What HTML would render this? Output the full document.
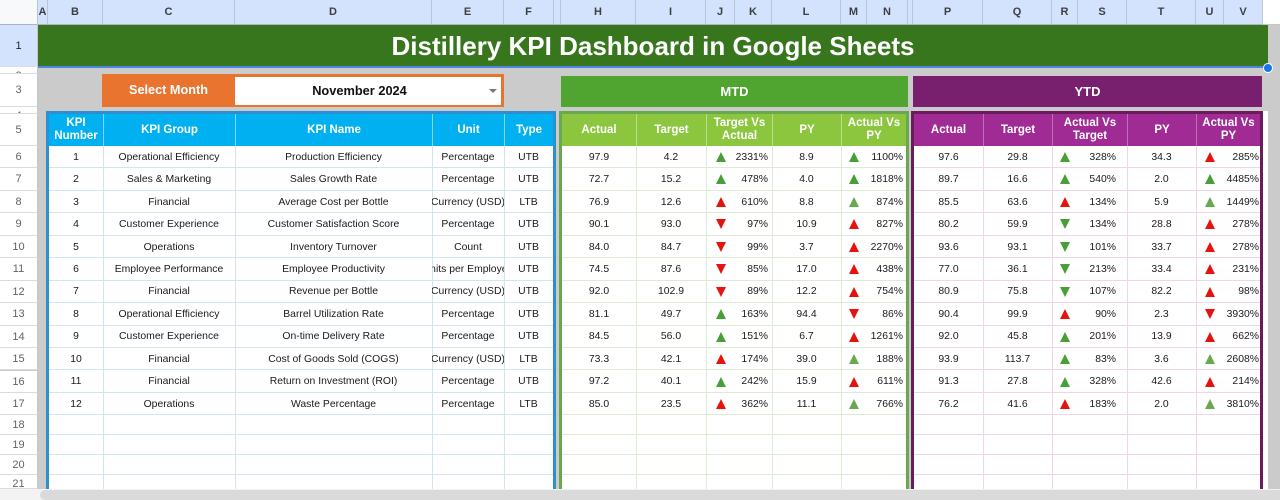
<!DOCTYPE html>
<html><head><meta charset="utf-8">
<style>
*{box-sizing:border-box}
body{margin:0;width:1280px;height:500px;overflow:hidden;position:relative;background:#cbcbcb;font-family:"Liberation Sans",Arial,sans-serif}
.a{position:absolute}
.cl{position:absolute;top:0;height:25px;line-height:25px;text-align:center;font-size:11px;font-weight:bold;color:#3c4043;background:#d3e3fd;border-right:1px solid #b9c6da;border-bottom:1px solid #aab4c4}
.rh{position:absolute;left:0;width:38px;background:#fff;border-bottom:1px solid #dadce0;border-right:1px solid #c4c7c5;text-align:center;font-size:11px;color:#5f6368;overflow:hidden}
.hd{position:absolute;top:114px;height:32px;display:flex;align-items:center;justify-content:center;text-align:center;color:#fff;font-weight:bold;font-size:11.5px;line-height:13px}
.hb{background:#00b0f0;border-left:1px solid #7fd6f6}
.hg{background:#8cc63f;border-left:1px solid #b9de8e}
.hp{background:#a12b94;border-left:1px solid #c46cba}
.rw{position:absolute;left:0;width:1280px;height:22.45px;font-size:10.4px;color:#1a1a1a;background:linear-gradient(to right,transparent 49px,#d3e4f1 49px,#d3e4f1 553px,transparent 553px,transparent 562px,#dcebd4 562px,#dcebd4 906px,transparent 906px,transparent 914px,#eed6ea 914px,#eed6ea 1260px,transparent 1260px) left bottom/100% 1px no-repeat}
.rw2{height:20px}
.rw i{position:absolute;top:0;height:100%;display:flex;align-items:center;justify-content:center;white-space:nowrap;overflow:hidden;font-style:normal}
.rw b{position:absolute;left:50%;top:6px;margin-left:-5px;width:0;height:0;border-left:5px solid transparent;border-right:5px solid transparent}
.U{border-bottom:10px solid}
.D{border-top:10px solid}
.G{color:#46a035}.R{color:#e5130d}.L{color:#6aa84f}
.b{left:49px;width:54px}.c{left:103px;width:132px}.d{left:235px;width:197px}.e{left:432px;width:72px}.f{left:504px;width:49px}
.h{left:562px;width:74px}.ii{left:636px;width:70px}.j{left:706px;width:29px}.k{left:728px;width:40px;justify-content:flex-end!important}.l{left:772px;width:69px}.m{left:841px;width:25px}.n{left:860px;width:43px;justify-content:flex-end!important}
.p{left:914px;width:69px}.q{left:983px;width:69px}.r{left:1052px;width:26px}.s{left:1076px;width:40px;justify-content:flex-end!important}.t{left:1127px;width:69px}.u{left:1196px;width:28px}.v{left:1220px;width:39px;justify-content:flex-end!important}
.vl{position:absolute;top:146px;height:343px;width:1px}
.vb{background:#d3e4f1}.vg{background:#dcebd4}.vp{background:#eed6ea}
</style></head><body>

<!-- column header -->
<div class="a" style="left:0;top:0;width:1280px;height:25px;background:#fff;border-bottom:1px solid #c4c7c5"></div>
<div class="cl" style="left:0;width:38px;background:#f8f9fa"></div>
<div class="cl" style="left:38px;width:10px">A</div>
<div class="cl" style="left:48px;width:55px">B</div>
<div class="cl" style="left:103px;width:132px">C</div>
<div class="cl" style="left:235px;width:197px">D</div>
<div class="cl" style="left:432px;width:72px">E</div>
<div class="cl" style="left:504px;width:50px">F</div>
<div class="cl" style="left:554px;width:7px"></div>
<div class="cl" style="left:561px;width:75px">H</div>
<div class="cl" style="left:636px;width:70px">I</div>
<div class="cl" style="left:706px;width:29px">J</div>
<div class="cl" style="left:735px;width:37px">K</div>
<div class="cl" style="left:772px;width:69px">L</div>
<div class="cl" style="left:841px;width:26px">M</div>
<div class="cl" style="left:867px;width:41px">N</div>
<div class="cl" style="left:908px;width:5px"></div>
<div class="cl" style="left:913px;width:70px">P</div>
<div class="cl" style="left:983px;width:69px">Q</div>
<div class="cl" style="left:1052px;width:26px">R</div>
<div class="cl" style="left:1078px;width:49px">S</div>
<div class="cl" style="left:1127px;width:69px">T</div>
<div class="cl" style="left:1196px;width:28px">U</div>
<div class="cl" style="left:1224px;width:39px">V</div>

<!-- row headers -->
<div class="rh" style="top:25px;height:42px;line-height:42px;background:#d3e3fd;color:#1f1f1f">1</div>
<div class="rh" style="top:67px;height:7px;line-height:18px">2</div>
<div class="rh" style="top:74px;height:33px;line-height:33px">3</div>
<div class="rh" style="top:107px;height:7px;line-height:18px">4</div>
<div class="rh" style="top:114px;height:32px;line-height:32px">5</div>
<div class="rh" style="top:146px;height:22.45px;line-height:22px">6</div>
<div class="rh" style="top:168.45px;height:22.45px;line-height:22px">7</div>
<div class="rh" style="top:190.9px;height:22.45px;line-height:22px">8</div>
<div class="rh" style="top:213.35px;height:22.45px;line-height:22px">9</div>
<div class="rh" style="top:235.8px;height:22.45px;line-height:22px">10</div>
<div class="rh" style="top:258.25px;height:22.45px;line-height:22px">11</div>
<div class="rh" style="top:280.7px;height:22.45px;line-height:22px">12</div>
<div class="rh" style="top:303.15px;height:22.45px;line-height:22px">13</div>
<div class="rh" style="top:325.6px;height:22.45px;line-height:22px">14</div>
<div class="rh" style="top:348.05px;height:22.45px;line-height:22px">15</div>
<div class="rh" style="top:370.5px;height:22.45px;line-height:22px">16</div>
<div class="rh" style="top:392.95px;height:22.45px;line-height:22px">17</div>
<div class="rh" style="top:415.4px;height:20px;line-height:20px">18</div>
<div class="rh" style="top:435.4px;height:20px;line-height:20px">19</div>
<div class="rh" style="top:455.4px;height:20px;line-height:20px">20</div>
<div class="rh" style="top:475.4px;height:14px;line-height:18px">21</div>

<!-- title -->
<div class="a" style="left:38px;top:25px;width:1230px;height:42px;background:#38761d;color:#fff;font-weight:bold;font-size:26px;line-height:42px;text-align:center;padding-left:0">Distillery KPI Dashboard in Google Sheets</div>
<div class="a" style="left:38px;top:66px;width:1230px;height:2px;background:#4a86e8"></div>
<div class="a" style="left:1263px;top:63px;width:10px;height:10px;border-radius:5px;background:#1a73e8;border:1px solid #fff"></div>

<!-- select month -->
<div class="a" style="left:102px;top:74px;width:402px;height:33px;background:#e8742f"></div>
<div class="a" style="left:102px;top:74px;width:133px;height:33px;line-height:33px;text-align:center;color:#fff;font-weight:bold;font-size:12.7px">Select Month</div>
<div class="a" style="left:235px;top:77px;width:266px;height:28px;background:#fff"></div>
<div class="a" style="left:235px;top:77px;width:249px;height:28px;line-height:28px;text-align:center;color:#111;font-weight:bold;font-size:12.8px">November 2024</div>
<div class="a" style="left:489px;top:89px;width:0;height:0;border-left:4px solid transparent;border-right:4px solid transparent;border-top:4px solid #777"></div>

<!-- MTD / YTD bars -->
<div class="a" style="left:561px;top:76px;width:347px;height:31px;line-height:31px;background:#4fa52f;color:#fff;font-weight:bold;font-size:13px;text-align:center">MTD</div>
<div class="a" style="left:913px;top:76px;width:349px;height:31px;line-height:31px;background:#781f6d;color:#fff;font-weight:bold;font-size:13px;text-align:center">YTD</div>

<!-- table boxes -->
<div class="a" style="left:46px;top:111px;width:510px;height:389px;border:3px solid #2b8fd0;border-bottom:0;background:#fff"></div>
<div class="a" style="left:559px;top:111px;width:350px;height:389px;border:3px solid #6aa84f;border-bottom:0;background:#fff"></div>
<div class="a" style="left:911px;top:111px;width:352px;height:389px;border:3px solid #6a1b5c;border-bottom:0;background:#fff"></div>
<div class="a" style="left:1263px;top:111px;width:5px;height:378px;background:#fff"></div>

<!-- headers -->
<div class="hd hb" style="left:49px;width:54px;border-left:0">KPI<br>Number</div>
<div class="hd hb" style="left:103px;width:132px">KPI Group</div>
<div class="hd hb" style="left:235px;width:197px">KPI Name</div>
<div class="hd hb" style="left:432px;width:72px">Unit</div>
<div class="hd hb" style="left:504px;width:49px">Type</div>

<div class="hd hg" style="left:562px;width:74px;border-left:0">Actual</div>
<div class="hd hg" style="left:636px;width:70px">Target</div>
<div class="hd hg" style="left:706px;width:66px">Target Vs<br>Actual</div>
<div class="hd hg" style="left:772px;width:69px">PY</div>
<div class="hd hg" style="left:841px;width:65px">Actual Vs<br>PY</div>

<div class="hd hp" style="left:914px;width:69px;border-left:0">Actual</div>
<div class="hd hp" style="left:983px;width:69px">Target</div>
<div class="hd hp" style="left:1052px;width:75px">Actual Vs<br>Target</div>
<div class="hd hp" style="left:1127px;width:69px">PY</div>
<div class="hd hp" style="left:1196px;width:64px">Actual Vs<br>PY</div>

<!-- vertical gridlines -->
<div class="vl vb" style="left:103px"></div><div class="vl vb" style="left:235px"></div><div class="vl vb" style="left:432px"></div><div class="vl vb" style="left:504px"></div>
<div class="vl vg" style="left:636px"></div><div class="vl vg" style="left:706px"></div><div class="vl vg" style="left:772px"></div><div class="vl vg" style="left:841px"></div>
<div class="vl vp" style="left:983px"></div><div class="vl vp" style="left:1052px"></div><div class="vl vp" style="left:1127px"></div><div class="vl vp" style="left:1196px"></div>

<!-- data rows -->
<div class="rw" style="top:146px"><i class="b">1</i><i class="c">Operational Efficiency</i><i class="d">Production Efficiency</i><i class="e">Percentage</i><i class="f">UTB</i><i class="h">97.9</i><i class="ii">4.2</i><i class="j"><b class="U G"></b></i><i class="k">2331%</i><i class="l">8.9</i><i class="m"><b class="U G"></b></i><i class="n">1100%</i><i class="p">97.6</i><i class="q">29.8</i><i class="r"><b class="U G"></b></i><i class="s">328%</i><i class="t">34.3</i><i class="u"><b class="U R"></b></i><i class="v">285%</i></div>

<div class="rw" style="top:168.45px"><i class="b">2</i><i class="c">Sales &amp; Marketing</i><i class="d">Sales Growth Rate</i><i class="e">Percentage</i><i class="f">UTB</i><i class="h">72.7</i><i class="ii">15.2</i><i class="j"><b class="U G"></b></i><i class="k">478%</i><i class="l">4.0</i><i class="m"><b class="U G"></b></i><i class="n">1818%</i><i class="p">89.7</i><i class="q">16.6</i><i class="r"><b class="U G"></b></i><i class="s">540%</i><i class="t">2.0</i><i class="u"><b class="U G"></b></i><i class="v">4485%</i></div>

<div class="rw" style="top:190.9px"><i class="b">3</i><i class="c">Financial</i><i class="d">Average Cost per Bottle</i><i class="e">Currency (USD)</i><i class="f">LTB</i><i class="h">76.9</i><i class="ii">12.6</i><i class="j"><b class="U R"></b></i><i class="k">610%</i><i class="l">8.8</i><i class="m"><b class="U L"></b></i><i class="n">874%</i><i class="p">85.5</i><i class="q">63.6</i><i class="r"><b class="U R"></b></i><i class="s">134%</i><i class="t">5.9</i><i class="u"><b class="U L"></b></i><i class="v">1449%</i></div>

<div class="rw" style="top:213.35px"><i class="b">4</i><i class="c">Customer Experience</i><i class="d">Customer Satisfaction Score</i><i class="e">Percentage</i><i class="f">UTB</i><i class="h">90.1</i><i class="ii">93.0</i><i class="j"><b class="D R"></b></i><i class="k">97%</i><i class="l">10.9</i><i class="m"><b class="U R"></b></i><i class="n">827%</i><i class="p">80.2</i><i class="q">59.9</i><i class="r"><b class="D G"></b></i><i class="s">134%</i><i class="t">28.8</i><i class="u"><b class="U R"></b></i><i class="v">278%</i></div>

<div class="rw" style="top:235.8px"><i class="b">5</i><i class="c">Operations</i><i class="d">Inventory Turnover</i><i class="e">Count</i><i class="f">UTB</i><i class="h">84.0</i><i class="ii">84.7</i><i class="j"><b class="D R"></b></i><i class="k">99%</i><i class="l">3.7</i><i class="m"><b class="U R"></b></i><i class="n">2270%</i><i class="p">93.6</i><i class="q">93.1</i><i class="r"><b class="D G"></b></i><i class="s">101%</i><i class="t">33.7</i><i class="u"><b class="U R"></b></i><i class="v">278%</i></div>

<div class="rw" style="top:258.25px"><i class="b">6</i><i class="c">Employee Performance</i><i class="d">Employee Productivity</i><i class="e">Units per Employee</i><i class="f">UTB</i><i class="h">74.5</i><i class="ii">87.6</i><i class="j"><b class="D R"></b></i><i class="k">85%</i><i class="l">17.0</i><i class="m"><b class="U R"></b></i><i class="n">438%</i><i class="p">77.0</i><i class="q">36.1</i><i class="r"><b class="D G"></b></i><i class="s">213%</i><i class="t">33.4</i><i class="u"><b class="U R"></b></i><i class="v">231%</i></div>

<div class="rw" style="top:280.7px"><i class="b">7</i><i class="c">Financial</i><i class="d">Revenue per Bottle</i><i class="e">Currency (USD)</i><i class="f">UTB</i><i class="h">92.0</i><i class="ii">102.9</i><i class="j"><b class="D R"></b></i><i class="k">89%</i><i class="l">12.2</i><i class="m"><b class="U R"></b></i><i class="n">754%</i><i class="p">80.9</i><i class="q">75.8</i><i class="r"><b class="D G"></b></i><i class="s">107%</i><i class="t">82.2</i><i class="u"><b class="U R"></b></i><i class="v">98%</i></div>

<div class="rw" style="top:303.15px"><i class="b">8</i><i class="c">Operational Efficiency</i><i class="d">Barrel Utilization Rate</i><i class="e">Percentage</i><i class="f">UTB</i><i class="h">81.1</i><i class="ii">49.7</i><i class="j"><b class="U G"></b></i><i class="k">163%</i><i class="l">94.4</i><i class="m"><b class="D R"></b></i><i class="n">86%</i><i class="p">90.4</i><i class="q">99.9</i><i class="r"><b class="U R"></b></i><i class="s">90%</i><i class="t">2.3</i><i class="u"><b class="D R"></b></i><i class="v">3930%</i></div>

<div class="rw" style="top:325.6px"><i class="b">9</i><i class="c">Customer Experience</i><i class="d">On-time Delivery Rate</i><i class="e">Percentage</i><i class="f">UTB</i><i class="h">84.5</i><i class="ii">56.0</i><i class="j"><b class="U G"></b></i><i class="k">151%</i><i class="l">6.7</i><i class="m"><b class="U R"></b></i><i class="n">1261%</i><i class="p">92.0</i><i class="q">45.8</i><i class="r"><b class="U G"></b></i><i class="s">201%</i><i class="t">13.9</i><i class="u"><b class="U R"></b></i><i class="v">662%</i></div>

<div class="rw" style="top:348.05px"><i class="b">10</i><i class="c">Financial</i><i class="d">Cost of Goods Sold (COGS)</i><i class="e">Currency (USD)</i><i class="f">LTB</i><i class="h">73.3</i><i class="ii">42.1</i><i class="j"><b class="U R"></b></i><i class="k">174%</i><i class="l">39.0</i><i class="m"><b class="U L"></b></i><i class="n">188%</i><i class="p">93.9</i><i class="q">113.7</i><i class="r"><b class="U G"></b></i><i class="s">83%</i><i class="t">3.6</i><i class="u"><b class="U L"></b></i><i class="v">2608%</i></div>

<div class="rw" style="top:370.5px"><i class="b">11</i><i class="c">Financial</i><i class="d">Return on Investment (ROI)</i><i class="e">Percentage</i><i class="f">UTB</i><i class="h">97.2</i><i class="ii">40.1</i><i class="j"><b class="U G"></b></i><i class="k">242%</i><i class="l">15.9</i><i class="m"><b class="U R"></b></i><i class="n">611%</i><i class="p">91.3</i><i class="q">27.8</i><i class="r"><b class="U G"></b></i><i class="s">328%</i><i class="t">42.6</i><i class="u"><b class="U R"></b></i><i class="v">214%</i></div>

<div class="rw" style="top:392.95px"><i class="b">12</i><i class="c">Operations</i><i class="d">Waste Percentage</i><i class="e">Percentage</i><i class="f">LTB</i><i class="h">85.0</i><i class="ii">23.5</i><i class="j"><b class="U R"></b></i><i class="k">362%</i><i class="l">11.1</i><i class="m"><b class="U L"></b></i><i class="n">766%</i><i class="p">76.2</i><i class="q">41.6</i><i class="r"><b class="U R"></b></i><i class="s">183%</i><i class="t">2.0</i><i class="u"><b class="U L"></b></i><i class="v">3810%</i></div>

<div class="rw rw2" style="top:415.4px"></div>
<div class="rw rw2" style="top:435.4px"></div>
<div class="rw rw2" style="top:455.4px"></div>
<div class="rw rw2" style="top:475.4px"></div>

<!-- bottom scrollbar -->
<div class="a" style="left:0;top:489px;width:1280px;height:11px;background:#f3f3f3"></div>
<div class="a" style="left:40px;top:490px;width:1250px;height:10px;background:#dadada;border-radius:5px"></div>

</body></html>
